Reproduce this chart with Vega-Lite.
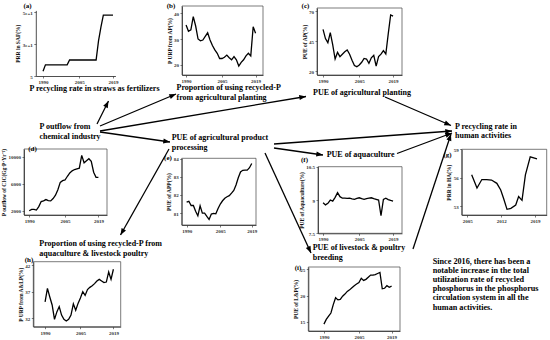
{
  "$schema": "https://vega.github.io/schema/vega-lite/v6.json",
  "width": 550,
  "height": 340,
  "autosize": {"type": "none"},
  "padding": 0,
  "background": "white",
  "config": {
    "view": {"stroke": null},
    "axis": {
      "grid": false,
      "labelFont": "Liberation Serif",
      "labelFontSize": 5,
      "labelFontWeight": "bold",
      "labelColor": "#333",
      "labelPadding": 1.5,
      "labelFlush": false,
      "labelOverlap": false,
      "tickSize": 2,
      "tickColor": "#222",
      "tickWidth": 0.6,
      "domainColor": "#222",
      "domainWidth": 0.8,
      "titleFont": "Liberation Serif",
      "titleFontSize": 5.5,
      "titleFontWeight": "bold",
      "titleColor": "#111",
      "titlePadding": 1.5
    }
  },
  "datasets": {
    "a": [
      {"year": 1990, "v": 8}, {"year": 1991, "v": 12}, {"year": 1992, "v": 12}, {"year": 1993, "v": 12}, {"year": 1994, "v": 12},
      {"year": 1995, "v": 12}, {"year": 1996, "v": 12}, {"year": 1997, "v": 12}, {"year": 1998, "v": 12}, {"year": 1999, "v": 12},
      {"year": 2000, "v": 12}, {"year": 2001, "v": 15}, {"year": 2002, "v": 15}, {"year": 2003, "v": 15}, {"year": 2004, "v": 15},
      {"year": 2005, "v": 15}, {"year": 2006, "v": 15}, {"year": 2007, "v": 15}, {"year": 2008, "v": 15}, {"year": 2009, "v": 15},
      {"year": 2010, "v": 15}, {"year": 2011, "v": 15}, {"year": 2012, "v": 15}, {"year": 2013, "v": 27}, {"year": 2014, "v": 35.5},
      {"year": 2015, "v": 43}, {"year": 2016, "v": 43}, {"year": 2017, "v": 43}, {"year": 2018, "v": 43}, {"year": 2019, "v": 43}
    ],
    "b": [
      {"year": 1990, "v": 35.4}, {"year": 1991, "v": 33}, {"year": 1992, "v": 33.5}, {"year": 1993, "v": 38.6}, {"year": 1994, "v": 35},
      {"year": 1995, "v": 30}, {"year": 1996, "v": 29.3}, {"year": 1997, "v": 29.6}, {"year": 1998, "v": 31}, {"year": 1999, "v": 32.4},
      {"year": 2000, "v": 29.6}, {"year": 2001, "v": 27.5}, {"year": 2002, "v": 25.8}, {"year": 2003, "v": 24.5}, {"year": 2004, "v": 22.5},
      {"year": 2005, "v": 22.5}, {"year": 2006, "v": 23}, {"year": 2007, "v": 23.8}, {"year": 2008, "v": 22.8}, {"year": 2009, "v": 22},
      {"year": 2010, "v": 23.2}, {"year": 2011, "v": 22}, {"year": 2012, "v": 19.6}, {"year": 2013, "v": 21}, {"year": 2014, "v": 22},
      {"year": 2015, "v": 23.5}, {"year": 2016, "v": 24.5}, {"year": 2017, "v": 23.5}, {"year": 2018, "v": 34.7}, {"year": 2019, "v": 32.2}
    ],
    "c": [
      {"year": 1990, "v": 54.7}, {"year": 1991, "v": 47}, {"year": 1992, "v": 43.6}, {"year": 1993, "v": 52}, {"year": 1994, "v": 42},
      {"year": 1995, "v": 30}, {"year": 1996, "v": 35.5}, {"year": 1997, "v": 32}, {"year": 1998, "v": 34}, {"year": 1999, "v": 36},
      {"year": 2000, "v": 37.5}, {"year": 2001, "v": 34}, {"year": 2002, "v": 29}, {"year": 2003, "v": 24.5}, {"year": 2004, "v": 23.6},
      {"year": 2005, "v": 25}, {"year": 2006, "v": 27.3}, {"year": 2007, "v": 30.5}, {"year": 2008, "v": 30}, {"year": 2009, "v": 26.4},
      {"year": 2010, "v": 31}, {"year": 2011, "v": 33}, {"year": 2012, "v": 24}, {"year": 2013, "v": 32}, {"year": 2014, "v": 34},
      {"year": 2015, "v": 37}, {"year": 2016, "v": 34.2}, {"year": 2017, "v": 51}, {"year": 2018, "v": 66.7}, {"year": 2019, "v": 65.8}
    ],
    "d": [
      {"year": 1990, "v": 2000}, {"year": 1991, "v": 2200}, {"year": 1992, "v": 2200}, {"year": 1993, "v": 2100}, {"year": 1994, "v": 2600},
      {"year": 1995, "v": 3350}, {"year": 1996, "v": 3450}, {"year": 1997, "v": 3650}, {"year": 1998, "v": 3500}, {"year": 1999, "v": 3450},
      {"year": 2000, "v": 3800}, {"year": 2001, "v": 4300}, {"year": 2002, "v": 5100}, {"year": 2003, "v": 6200}, {"year": 2004, "v": 6450},
      {"year": 2005, "v": 6550}, {"year": 2006, "v": 7100}, {"year": 2007, "v": 7600}, {"year": 2008, "v": 7900}, {"year": 2009, "v": 8100},
      {"year": 2010, "v": 8200}, {"year": 2011, "v": 8300}, {"year": 2012, "v": 10200}, {"year": 2013, "v": 9100}, {"year": 2014, "v": 9400},
      {"year": 2015, "v": 9700}, {"year": 2016, "v": 9300}, {"year": 2017, "v": 7700}, {"year": 2018, "v": 6950}, {"year": 2019, "v": 6950}
    ],
    "e": [
      {"year": 1990, "v": 81.6}, {"year": 1991, "v": 81.65}, {"year": 1992, "v": 81.42}, {"year": 1993, "v": 81.42}, {"year": 1994, "v": 81.1},
      {"year": 1995, "v": 80.85}, {"year": 1996, "v": 81.4}, {"year": 1997, "v": 81.0}, {"year": 1998, "v": 81.0}, {"year": 1999, "v": 80.82},
      {"year": 2000, "v": 80.65}, {"year": 2001, "v": 80.95}, {"year": 2002, "v": 80.98}, {"year": 2003, "v": 80.96}, {"year": 2004, "v": 81.25},
      {"year": 2005, "v": 81.5}, {"year": 2006, "v": 81.68}, {"year": 2007, "v": 81.82}, {"year": 2008, "v": 81.9}, {"year": 2009, "v": 81.96},
      {"year": 2010, "v": 82.1}, {"year": 2011, "v": 82.25}, {"year": 2012, "v": 82.55}, {"year": 2013, "v": 82.95}, {"year": 2014, "v": 83.27},
      {"year": 2015, "v": 83.36}, {"year": 2016, "v": 83.37}, {"year": 2017, "v": 83.37}, {"year": 2018, "v": 83.5}, {"year": 2019, "v": 83.73}
    ],
    "f": [
      {"year": 1990, "v": 8.88}, {"year": 1991, "v": 8.78}, {"year": 1992, "v": 8.85}, {"year": 1993, "v": 9.0}, {"year": 1994, "v": 8.95},
      {"year": 1995, "v": 9.12}, {"year": 1996, "v": 9.33}, {"year": 1997, "v": 9.15}, {"year": 1998, "v": 9.08}, {"year": 1999, "v": 9.08},
      {"year": 2000, "v": 9.07}, {"year": 2001, "v": 9.08}, {"year": 2002, "v": 9.05}, {"year": 2003, "v": 9.03}, {"year": 2004, "v": 9.07},
      {"year": 2005, "v": 9.1}, {"year": 2006, "v": 9.06}, {"year": 2007, "v": 9.03}, {"year": 2008, "v": 9.06}, {"year": 2009, "v": 9.08},
      {"year": 2010, "v": 9.1}, {"year": 2011, "v": 9.06}, {"year": 2012, "v": 9.03}, {"year": 2013, "v": 9.0}, {"year": 2014, "v": 8.3},
      {"year": 2015, "v": 9.03}, {"year": 2016, "v": 9.08}, {"year": 2017, "v": 9.02}, {"year": 2018, "v": 8.98}, {"year": 2019, "v": 8.95}
    ],
    "g": [
      {"year": 2005.9, "v": 56.3}, {"year": 2007, "v": 54.9}, {"year": 2008, "v": 55.8}, {"year": 2009, "v": 55.8}, {"year": 2010, "v": 55.75},
      {"year": 2011.1, "v": 55.4}, {"year": 2011.9, "v": 54.7}, {"year": 2012.5, "v": 53.8}, {"year": 2013.2, "v": 52.65}, {"year": 2014, "v": 52.75},
      {"year": 2015, "v": 53.1}, {"year": 2015.6, "v": 54}, {"year": 2016.3, "v": 53.6}, {"year": 2017, "v": 56.3}, {"year": 2018, "v": 58.2},
      {"year": 2019.4, "v": 58}
    ],
    "h": [
      {"year": 1990, "v": 35.1}, {"year": 1991, "v": 37.6}, {"year": 1992, "v": 36}, {"year": 1993, "v": 34.5}, {"year": 1994, "v": 31.8},
      {"year": 1995, "v": 33.2}, {"year": 1996, "v": 34.2}, {"year": 1997, "v": 32.6}, {"year": 1998, "v": 31.8}, {"year": 1999, "v": 31.5},
      {"year": 2000, "v": 31.8}, {"year": 2001, "v": 32.6}, {"year": 2002, "v": 34.7}, {"year": 2003, "v": 33.5}, {"year": 2004, "v": 34.8},
      {"year": 2005, "v": 35.8}, {"year": 2006, "v": 37}, {"year": 2007, "v": 36.3}, {"year": 2008, "v": 37.4}, {"year": 2009, "v": 37.8},
      {"year": 2010, "v": 38.1}, {"year": 2011, "v": 38.5}, {"year": 2012, "v": 39}, {"year": 2013, "v": 39.3}, {"year": 2014, "v": 39.0},
      {"year": 2015, "v": 38.7}, {"year": 2016, "v": 38.8}, {"year": 2017, "v": 40.7}, {"year": 2018, "v": 39.3}, {"year": 2019, "v": 41.2}
    ],
    "i": [
      {"year": 1990, "v": 14.6}, {"year": 1991, "v": 15.5}, {"year": 1992, "v": 16.1}, {"year": 1993, "v": 16.7}, {"year": 1994, "v": 18.3},
      {"year": 1995, "v": 19.6}, {"year": 1996, "v": 19.2}, {"year": 1997, "v": 19.3}, {"year": 1998, "v": 19.9}, {"year": 1999, "v": 20.3},
      {"year": 2000, "v": 20.8}, {"year": 2001, "v": 21.1}, {"year": 2002, "v": 21.5}, {"year": 2003, "v": 21.9}, {"year": 2004, "v": 22.2},
      {"year": 2005, "v": 22.5}, {"year": 2006, "v": 23.3}, {"year": 2007, "v": 22.9}, {"year": 2008, "v": 23.1}, {"year": 2009, "v": 23.5},
      {"year": 2010, "v": 23.9}, {"year": 2011, "v": 23.9}, {"year": 2012, "v": 24.0}, {"year": 2013, "v": 24.2}, {"year": 2014, "v": 24.4},
      {"year": 2015, "v": 21.3}, {"year": 2016, "v": 21.4}, {"year": 2017, "v": 21.9}, {"year": 2018, "v": 21.6}, {"year": 2019, "v": 21.8}
    ],
    "arrows": [
      {"x1": 97, "y1": 124, "x2": 108.5, "y2": 101},
      {"x1": 100, "y1": 126, "x2": 176, "y2": 94},
      {"x1": 100, "y1": 131, "x2": 306, "y2": 96.5},
      {"x1": 100, "y1": 132, "x2": 170, "y2": 142},
      {"x1": 169, "y1": 149, "x2": 120.5, "y2": 235},
      {"x1": 274, "y1": 144, "x2": 452, "y2": 131},
      {"x1": 274, "y1": 148, "x2": 323, "y2": 155},
      {"x1": 265, "y1": 153, "x2": 311, "y2": 253},
      {"x1": 385, "y1": 97, "x2": 451, "y2": 125.5},
      {"x1": 397, "y1": 153.5, "x2": 452, "y2": 133},
      {"x1": 413, "y1": 249, "x2": 451, "y2": 134}
    ],
    "labels": [
      {"t": "P recycling rate in straws as fertilizers", "x": 29.5, "y": 85},
      {"t": "Proportion of using recycled-P\nfrom agricultural planting", "x": 176.5, "y": 84.3},
      {"t": "PUE of agricultural planting", "x": 313, "y": 89},
      {"t": "P outflow from\nchemical industry", "x": 39.5, "y": 123.3},
      {"t": "PUE of agricultural product\nprocessing", "x": 171.7, "y": 134.3},
      {"t": "PUE of aquaculture", "x": 326.7, "y": 151},
      {"t": "P recycling rate in\nhuman activities", "x": 455, "y": 122.7},
      {"t": "Proportion of using recycled-P from\naquaculture & livestock poultry", "x": 39.3, "y": 240},
      {"t": "PUE of livestock & poultry\nbreeding", "x": 312.7, "y": 244.3}
    ],
    "letters": [
      {"t": "(a)", "x": 27.5, "y": 6}, {"t": "(b)", "x": 171, "y": 6}, {"t": "(c)", "x": 305.5, "y": 6},
      {"t": "(d)", "x": 32.5, "y": 148.5}, {"t": "(e)", "x": 168, "y": 158}, {"t": "(f)", "x": 304.5, "y": 159.5},
      {"t": "(g)", "x": 447.5, "y": 155}, {"t": "(h)", "x": 29, "y": 260}, {"t": "(i)", "x": 298, "y": 267.5}
    ],
    "note": [
      {"t": "Since 2016, there has been a\nnotable increase in the total\nutilization rate of recycled\nphosphorus in the phosphorus\ncirculation system in all the\nhuman activities.", "x": 432.7, "y": 257.5}
    ]
  },
  "layer": [
    {
      "data": {"name": "a"},
      "layer": [
        {"mark": {"type": "line", "color": "black", "strokeWidth": 1.3},
         "encoding": {
           "x": {"field": "year", "type": "quantitative", "scale": {"domain": [1987, 2020], "range": [35.8, 115.4], "nice": false, "zero": false}, "axis": {"orient": "bottom", "offset": -264, "values": [1990, 2005, 2019], "format": "d", "title": null}},
           "y": {"field": "v", "type": "quantitative", "scale": {"domain": [5, 46], "range": [76, 10.4], "nice": false, "zero": false}, "axis": {"orient": "left", "offset": -35.8, "values": [5, 25, 45], "format": "~g", "title": "PRR in SAF(%)"}}
         }}
      ]
    },
    {
      "data": {"name": "b"},
      "layer": [
        {"mark": {"type": "line", "color": "black", "strokeWidth": 1.3},
         "encoding": {
           "x": {"field": "year", "type": "quantitative", "scale": {"domain": [1988.3, 2022.1], "range": [182, 263], "nice": false, "zero": false}, "axis": {"orient": "bottom", "offset": -265, "values": [1990, 2005, 2019], "format": "d", "title": null}},
           "y": {"field": "v", "type": "quantitative", "scale": {"domain": [16.15, 42.7], "range": [75, 6], "nice": false, "zero": false}, "axis": {"orient": "left", "offset": -182, "values": [20, 30, 40], "format": "~g", "title": "P URP from AP(%)"}}
         }},
        {"data": {"values": [{}]}, "mark": {"type": "rect", "fillOpacity": 0, "stroke": "#444", "strokeWidth": 0.7},
         "encoding": {"x": {"datum": 1988.3}, "x2": {"datum": 2022.1}, "y": {"datum": 16.15}, "y2": {"datum": 42.7}}}
      ]
    },
    {
      "data": {"name": "c"},
      "layer": [
        {"mark": {"type": "line", "color": "black", "strokeWidth": 1.3},
         "encoding": {
           "x": {"field": "year", "type": "quantitative", "scale": {"domain": [1987.5, 2022.7], "range": [317, 402], "nice": false, "zero": false}, "axis": {"orient": "bottom", "offset": -265, "values": [1990, 2005, 2019], "format": "d", "title": null}},
           "y": {"field": "v", "type": "quantitative", "scale": {"domain": [16.67, 72.5], "range": [75, 8], "nice": false, "zero": false}, "axis": {"orient": "left", "offset": -317, "values": [20, 45, 70], "format": "~g", "title": "PUE of AP(%)"}}
         }},
        {"data": {"values": [{}]}, "mark": {"type": "rect", "fillOpacity": 0, "stroke": "#444", "strokeWidth": 0.7},
         "encoding": {"x": {"datum": 1987.5}, "x2": {"datum": 2022.7}, "y": {"datum": 16.67}, "y2": {"datum": 72.5}}}
      ]
    },
    {
      "data": {"name": "d"},
      "layer": [
        {"mark": {"type": "line", "color": "black", "strokeWidth": 1.3},
         "encoding": {
           "x": {"field": "year", "type": "quantitative", "scale": {"domain": [1987.8, 2022.6], "range": [24, 107], "nice": false, "zero": false}, "axis": {"orient": "bottom", "offset": -125, "values": [1990, 2005, 2019], "format": "d", "title": null}},
           "y": {"field": "v", "type": "quantitative", "scale": {"domain": [1363, 11140], "range": [215, 149], "nice": false, "zero": false}, "axis": {"orient": "left", "offset": -24, "values": [2000, 6000, 10000], "format": "d", "title": "P outflow of CIC(Gg·P·Yr⁻¹)"}}
         }},
        {"data": {"values": [{}]}, "mark": {"type": "rect", "fillOpacity": 0, "stroke": "#444", "strokeWidth": 0.7},
         "encoding": {"x": {"datum": 1987.8}, "x2": {"datum": 2022.6}, "y": {"datum": 1363}, "y2": {"datum": 11140}}}
      ]
    },
    {
      "data": {"name": "e"},
      "layer": [
        {"mark": {"type": "line", "color": "black", "strokeWidth": 1.3},
         "encoding": {
           "x": {"field": "year", "type": "quantitative", "scale": {"domain": [1987.8, 2020.9], "range": [181.7, 256], "nice": false, "zero": false}, "axis": {"orient": "bottom", "offset": -115, "values": [1990, 2005, 2019], "format": "d", "title": null}},
           "y": {"field": "v", "type": "quantitative", "scale": {"domain": [80.345, 84.02], "range": [225, 158.3], "nice": false, "zero": false}, "axis": {"orient": "left", "offset": -181.7, "values": [81, 82, 83, 84], "format": "~g", "title": "PUE of APP(%)"}}
         }},
        {"data": {"values": [{}]}, "mark": {"type": "rect", "fillOpacity": 0, "stroke": "#444", "strokeWidth": 0.7},
         "encoding": {"x": {"datum": 1987.8}, "x2": {"datum": 2020.9}, "y": {"datum": 80.345}, "y2": {"datum": 84.02}}}
      ]
    },
    {
      "data": {"name": "f"},
      "layer": [
        {"mark": {"type": "line", "color": "black", "strokeWidth": 1.3},
         "encoding": {
           "x": {"field": "year", "type": "quantitative", "scale": {"domain": [1987.9, 2022.7], "range": [318, 402], "nice": false, "zero": false}, "axis": {"orient": "bottom", "offset": -106.7, "values": [1990, 2005, 2019], "format": "d", "title": null}},
           "y": {"field": "v", "type": "quantitative", "scale": {"domain": [7.5, 10.5], "range": [233.3, 166.7], "nice": false, "zero": false}, "axis": {"orient": "left", "offset": -318, "values": [7.5, 9, 10.5], "format": "~g", "title": "PUE of Aquaculture(%)"}}
         }},
        {"data": {"values": [{}]}, "mark": {"type": "rect", "fillOpacity": 0, "stroke": "#444", "strokeWidth": 0.7},
         "encoding": {"x": {"datum": 1987.9}, "x2": {"datum": 2022.7}, "y": {"datum": 7.5}, "y2": {"datum": 10.5}}}
      ]
    },
    {
      "data": {"name": "g"},
      "layer": [
        {"mark": {"type": "line", "color": "black", "strokeWidth": 1.3},
         "encoding": {
           "x": {"field": "year", "type": "quantitative", "scale": {"domain": [2003.84, 2021.4], "range": [461.7, 546.7], "nice": false, "zero": false}, "axis": {"orient": "bottom", "offset": -125, "values": [2005, 2012, 2019], "format": "d", "title": null}},
           "y": {"field": "v", "type": "quantitative", "scale": {"domain": [52.05, 59], "range": [215, 149.3], "nice": false, "zero": false}, "axis": {"orient": "left", "offset": -461.7, "values": [53, 56, 59], "format": "~g", "title": "PRR in HA(%)"}}
         }},
        {"data": {"values": [{}]}, "mark": {"type": "rect", "fillOpacity": 0, "stroke": "#444", "strokeWidth": 0.7},
         "encoding": {"x": {"datum": 2003.84}, "x2": {"datum": 2021.4}, "y": {"datum": 52.05}, "y2": {"datum": 59}}}
      ]
    },
    {
      "data": {"name": "h"},
      "layer": [
        {"mark": {"type": "line", "color": "black", "strokeWidth": 1.3},
         "encoding": {
           "x": {"field": "year", "type": "quantitative", "scale": {"domain": [1985.0, 2022.1], "range": [33.3, 120.7], "nice": false, "zero": false}, "axis": {"orient": "bottom", "offset": -13.3, "values": [1990, 2005, 2019], "format": "d", "title": null}},
           "y": {"field": "v", "type": "quantitative", "scale": {"domain": [30.42, 42.62], "range": [326.7, 261.7], "nice": false, "zero": false}, "axis": {"orient": "left", "offset": -33.3, "values": [32, 37, 42], "format": "~g", "title": "P URP from A&LP(%)"}}
         }},
        {"data": {"values": [{}]}, "mark": {"type": "rect", "fillOpacity": 0, "stroke": "#444", "strokeWidth": 0.7},
         "encoding": {"x": {"datum": 1985.0}, "x2": {"datum": 2022.1}, "y": {"datum": 30.42}, "y2": {"datum": 42.62}}}
      ]
    },
    {
      "data": {"name": "i"},
      "layer": [
        {"mark": {"type": "line", "color": "black", "strokeWidth": 1.3},
         "encoding": {
           "x": {"field": "year", "type": "quantitative", "scale": {"domain": [1983.3, 2022.6], "range": [308.3, 400], "nice": false, "zero": false}, "axis": {"orient": "bottom", "offset": -9, "values": [1990, 2005, 2019], "format": "d", "title": null}},
           "y": {"field": "v", "type": "quantitative", "scale": {"domain": [13.29, 25.44], "range": [331, 267], "nice": false, "zero": false}, "axis": {"orient": "left", "offset": -308.3, "values": [15, 20, 25], "format": "~g", "title": "PUE of L&P(%)"}}
         }},
        {"data": {"values": [{}]}, "mark": {"type": "rect", "fillOpacity": 0, "stroke": "#444", "strokeWidth": 0.7},
         "encoding": {"x": {"datum": 1983.3}, "x2": {"datum": 2022.6}, "y": {"datum": 13.29}, "y2": {"datum": 25.44}}}
      ]
    },
    {
      "data": {"name": "arrows"},
      "transform": [{"calculate": "atan2(datum.y2 - datum.y1, datum.x2 - datum.x1) * 180 / PI", "as": "ang"}],
      "layer": [
        {"mark": {"type": "rule", "color": "black", "strokeWidth": 1.3},
         "encoding": {
           "x": {"field": "x1", "type": "quantitative", "scale": {"domain": [0, 550], "range": [0, 550], "nice": false, "zero": false}, "axis": null},
           "y": {"field": "y1", "type": "quantitative", "scale": {"domain": [0, 340], "range": [0, 340], "nice": false, "zero": false}, "axis": null},
           "x2": {"field": "x2"},
           "y2": {"field": "y2"}
         }},
        {"mark": {"type": "point", "filled": true, "color": "black", "opacity": 1, "strokeWidth": 0, "size": 180, "shape": "M0,0L-1,-0.38L-1,0.38Z"},
         "encoding": {
           "x": {"field": "x2", "type": "quantitative"},
           "y": {"field": "y2", "type": "quantitative"},
           "angle": {"field": "ang", "type": "quantitative", "scale": null}
         }}
      ]
    },
    {
      "data": {"name": "labels"},
      "mark": {"type": "text", "font": "Liberation Serif", "fontWeight": "bold", "fontSize": 8, "lineHeight": 9.5, "align": "left", "baseline": "top", "lineBreak": "\n", "color": "black"},
      "encoding": {
        "x": {"field": "x", "type": "quantitative", "scale": {"domain": [0, 550], "range": [0, 550], "nice": false, "zero": false}, "axis": null},
        "y": {"field": "y", "type": "quantitative", "scale": {"domain": [0, 340], "range": [0, 340], "nice": false, "zero": false}, "axis": null},
        "text": {"field": "t"}
      }
    },
    {
      "data": {"name": "letters"},
      "mark": {"type": "text", "font": "Liberation Serif", "fontWeight": "bold", "fontSize": 7, "align": "center", "baseline": "middle", "color": "black"},
      "encoding": {
        "x": {"field": "x", "type": "quantitative", "scale": {"domain": [0, 550], "range": [0, 550], "nice": false, "zero": false}, "axis": null},
        "y": {"field": "y", "type": "quantitative", "scale": {"domain": [0, 340], "range": [0, 340], "nice": false, "zero": false}, "axis": null},
        "text": {"field": "t"}
      }
    },
    {
      "data": {"name": "note"},
      "mark": {"type": "text", "font": "Liberation Serif", "fontWeight": "bold", "fontSize": 8.2, "lineHeight": 9.2, "align": "left", "baseline": "top", "lineBreak": "\n", "color": "black"},
      "encoding": {
        "x": {"field": "x", "type": "quantitative", "scale": {"domain": [0, 550], "range": [0, 550], "nice": false, "zero": false}, "axis": null},
        "y": {"field": "y", "type": "quantitative", "scale": {"domain": [0, 340], "range": [0, 340], "nice": false, "zero": false}, "axis": null},
        "text": {"field": "t"}
      }
    }
  ],
  "resolve": {
    "scale": {"x": "independent", "y": "independent"},
    "axis": {"x": "independent", "y": "independent"}
  }
}
